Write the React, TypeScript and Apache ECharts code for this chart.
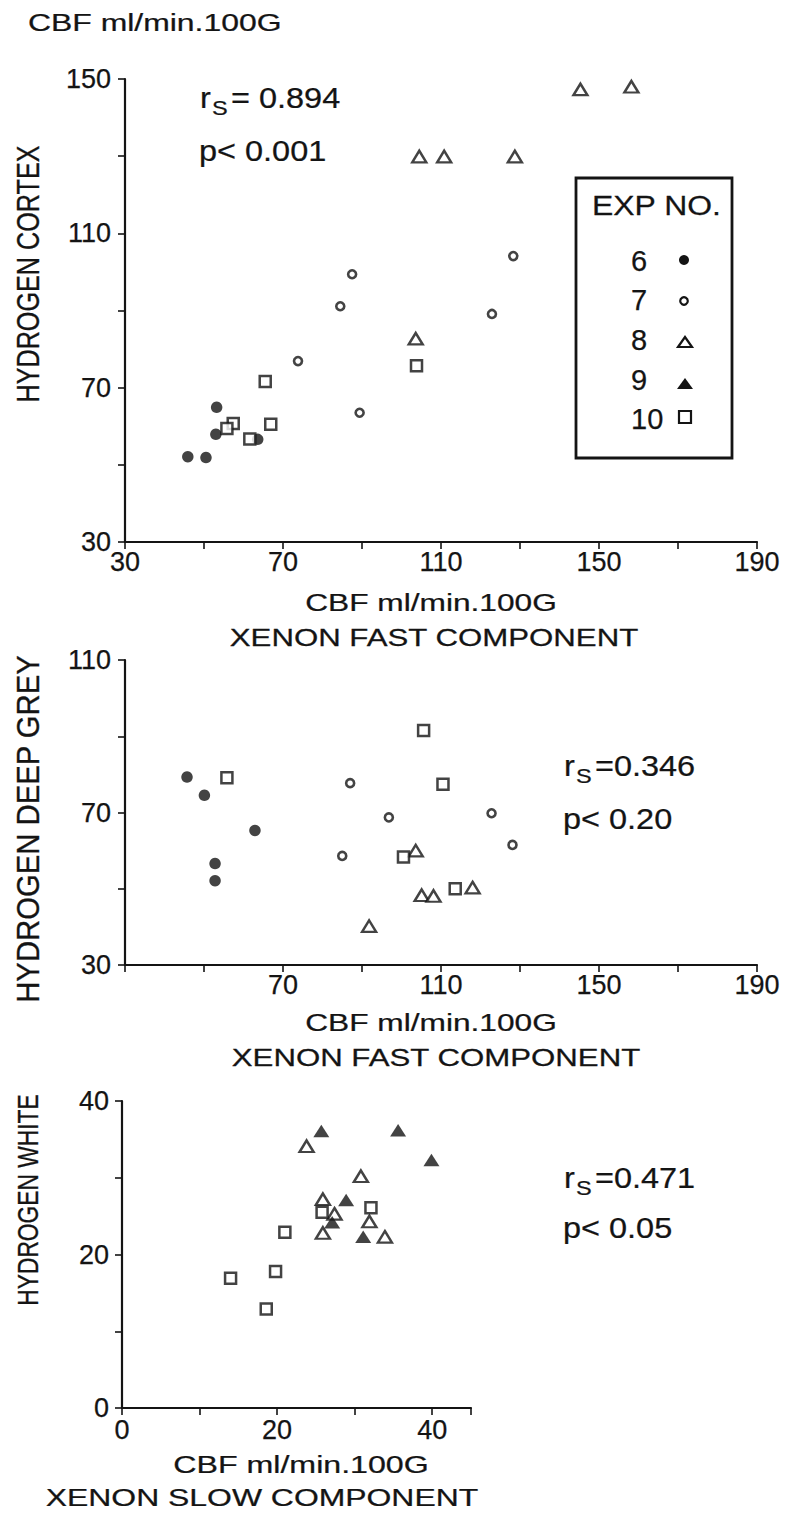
import React, { useEffect, useRef } from "react";
import * as echarts from "echarts";

// ---------- DATA ----------
// Panel 1: Hydrogen cortex vs Xenon fast component
const cortexExp6 = [[45.9, 52.1], [50.5, 51.9], [53.2, 64.9], [53.0, 57.9], [63.6, 56.6]];
const cortexExp7 = [[87.5, 99.4], [84.5, 91.1], [73.8, 76.9], [89.4, 63.5], [122.9, 89.1], [128.3, 104.1]];
const cortexExp8 = [[145.3, 147.3], [158.2, 148.0], [104.5, 129.9], [110.8, 129.9], [128.7, 129.9], [103.6, 82.7]];
const cortexExp10 = [[65.5, 71.6], [103.8, 75.7], [57.4, 60.7], [55.8, 59.4], [66.9, 60.5], [61.6, 56.7]];

// Panel 2: Hydrogen deep grey vs Xenon fast component
const greyExp6 = [[45.7, 79.3], [50.1, 74.5], [62.9, 65.3], [52.8, 56.6], [52.8, 52.1]];
const greyExp7 = [[87.0, 77.7], [96.8, 68.7], [85.0, 58.6], [122.8, 69.8], [128.1, 61.5]];
const greyExp8 = [[103.6, 60.0], [105.1, 48.3], [108.1, 48.1], [118.0, 50.3], [91.8, 40.2]];
const greyExp10 = [[55.8, 79.1], [105.6, 91.5], [110.5, 77.4], [100.5, 58.3], [113.6, 50.0]];

// Panel 3: Hydrogen white vs Xenon slow component
const whiteExp8 = [[23.8, 34.1], [30.8, 30.2], [25.9, 27.2], [27.4, 25.3], [31.9, 24.3], [25.9, 22.8], [33.9, 22.3]];
const whiteExp9 = [[25.7, 36.1], [35.6, 36.2], [39.9, 32.3], [28.9, 27.1], [27.1, 24.2], [31.1, 22.3]];
const whiteExp10 = [[25.8, 25.5], [32.1, 26.1], [21.0, 22.9], [19.8, 17.8], [14.0, 16.9], [18.6, 12.9]];

const legendExps = ["6", "7", "8", "9", "10"];
const stats = [
  { r: "= 0.894", p: "p< 0.001" },
  { r: "=0.346", p: "p< 0.20" },
  { r: "=0.471", p: "p< 0.05" },
];

// ---------- STYLE ----------
const INK = "#141414";
const FONT = "'Liberation Sans', Arial, Helvetica, sans-serif";

function txt(text: string, x: number, y: number, o: any = {}) {
  return {
    type: "text",
    x,
    y,
    rotation: o.rotation || 0,
    scaleX: o.sx || 1,
    scaleY: o.sy || 1,
    silent: true,
    z: 10,
    style: {
      text,
      x: 0,
      y: 0,
      fill: INK,
      stroke: INK,
      lineWidth: 0.25,
      fontSize: o.size || 24,
      fontFamily: FONT,
      align: o.align || "left",
      verticalAlign: "middle",
      textAlign: o.align || "left",
      textVerticalAlign: "middle",
    },
  };
}

function axisCommon(fontSize: number, margin: number, fmt: (v: number) => string) {
  return {
    type: "value",
    axisLine: { show: true, onZero: false, lineStyle: { color: INK, width: 2.2 } },
    axisTick: { show: true, length: 7, lineStyle: { color: INK, width: 1.6 } },
    splitLine: { show: false },
    axisLabel: {
      color: INK,
      fontSize,
      fontFamily: FONT,
      margin,
      formatter: fmt,
      textBorderColor: INK,
      textBorderWidth: 0.25,
    },
  };
}

const filledCircle = { symbol: "circle", symbolSize: 11.5, itemStyle: { color: INK, borderWidth: 0 } };
const openCircle = { symbol: "circle", symbolSize: 8, itemStyle: { color: "#fff", borderColor: INK, borderWidth: 2.6 } };
const openTri = { symbol: "triangle", symbolSize: [14, 11.5], itemStyle: { color: "#fff", borderColor: INK, borderWidth: 2.4 } };
const filledTri = { symbol: "triangle", symbolSize: [16, 12.5], itemStyle: { color: INK, borderWidth: 0 } };
const openSquare = { symbol: "rect", symbolSize: 11, itemStyle: { color: "#fff", borderColor: INK, borderWidth: 2.5 } };

function sc(idx: number, data: number[][], st: any) {
  return { type: "scatter", xAxisIndex: idx, yAxisIndex: idx, data, silent: true, ...st };
}

function rStat(x: number, y: number, rest: string) {
  return [
    txt("r", x, y, { size: 29, sx: 1.12 }),
    txt("S", x + 12, y + 10, { size: 21, sx: 1.12 }),
    txt(rest, x + 31, y, { size: 29, sx: 1.12 }),
  ];
}

export default function App() {
  const ref = useRef<HTMLDivElement>(null);

  useEffect(() => {
    document.body.style.margin = "0";
    if (!ref.current) return;
    const chart = echarts.init(ref.current, null, { renderer: "svg" });

    const legendYs = [261, 300, 340, 380, 419];
    const graphic: any[] = [
      {
        type: "rect",
        silent: true,
        z: 5,
        shape: { x: 576, y: 178, width: 156, height: 280 },
        style: { fill: "none", stroke: INK, lineWidth: 2.8 },
      },
      txt("CBF ml/min.100G", 28, 23, { sx: 1.33 }),
      // axis names panel 1
      txt("CBF ml/min.100G", 431, 603, { align: "center", sx: 1.32 }),
      txt("XENON FAST COMPONENT", 434, 638, { align: "center", sx: 1.3 }),
      // panel 2
      txt("CBF ml/min.100G", 431, 1023, { align: "center", sx: 1.32 }),
      txt("XENON FAST COMPONENT", 436, 1058, { align: "center", sx: 1.3 }),
      // panel 3
      txt("CBF ml/min.100G", 301, 1465, { align: "center", sx: 1.34 }),
      txt("XENON SLOW COMPONENT", 262, 1498, { align: "center", sx: 1.33 }),
      // y axis names
      txt("HYDROGEN CORTEX", 28, 274, { align: "center", rotation: Math.PI / 2, sx: 1.05, sy: 1.3 }),
      txt("HYDROGEN DEEP GREY", 28, 829, { align: "center", rotation: Math.PI / 2, sx: 1.22, sy: 1.3 }),
      txt("HYDROGEN WHITE", 28, 1200, { align: "center", rotation: Math.PI / 2, size: 24, sx: 0.95, sy: 1.25 }),
      // stats
      ...rStat(200, 98, stats[0].r),
      txt(stats[0].p, 199, 151, { size: 29, sx: 1.12 }),
      ...rStat(564, 766, stats[1].r),
      txt(stats[1].p, 563, 819, { size: 29, sx: 1.12 }),
      ...rStat(564, 1178, stats[2].r),
      txt(stats[2].p, 563, 1228, { size: 29, sx: 1.12 }),
      // legend content
      txt("EXP NO.", 592, 205, { size: 28, sx: 1.14 }),
      ...legendExps.map((e, i) => txt(e, 631, legendYs[i], { size: 29 })),
      { type: "circle", silent: true, z: 10, shape: { cx: 684, cy: 260, r: 5 }, style: { fill: INK } },
      { type: "circle", silent: true, z: 10, shape: { cx: 684, cy: 301, r: 3.8 }, style: { fill: "#fff", stroke: INK, lineWidth: 2.2 } },
      { type: "polygon", silent: true, z: 10, shape: { points: [[678, 347], [692, 347], [685, 337]] }, style: { fill: "#fff", stroke: INK, lineWidth: 2.2 } },
      { type: "polygon", silent: true, z: 10, shape: { points: [[677, 389], [693, 389], [685, 378]] }, style: { fill: INK } },
      { type: "rect", silent: true, z: 10, shape: { x: 679, y: 411, width: 12, height: 12 }, style: { fill: "#fff", stroke: INK, lineWidth: 2.2 } },
    ];

    const option: any = {
      animation: false,
      backgroundColor: "#fff",
      grid: [
        { left: 125, top: 79, width: 632, height: 463 },
        { left: 125, top: 660, width: 632, height: 305 },
        { left: 122, top: 1101, width: 349, height: 307 },
      ],
      xAxis: [
        { gridIndex: 0, min: 30, max: 190, interval: 20, ...axisCommon(27, 6, (v) => ((v - 30) % 40 === 0 ? String(v) : "")) },
        { gridIndex: 1, min: 30, max: 190, interval: 20, ...axisCommon(27, 6, (v) => (v !== 30 && (v - 30) % 40 === 0 ? String(v) : "")) },
        { gridIndex: 2, min: 0, max: 45, interval: 10, ...axisCommon(27, 8, (v) => (v % 20 === 0 && v <= 40 ? String(v) : "")) },
      ],
      yAxis: [
        { gridIndex: 0, min: 30, max: 150, interval: 20, ...axisCommon(27, 14, (v) => ((v - 30) % 40 === 0 ? String(v) : "")) },
        { gridIndex: 1, min: 30, max: 110, interval: 20, ...axisCommon(27, 14, (v) => ((v - 30) % 40 === 0 ? String(v) : "")) },
        { gridIndex: 2, min: 0, max: 40, interval: 10, ...axisCommon(27, 13, (v) => (v % 20 === 0 ? String(v) : "")) },
      ],
      series: [
        sc(0, cortexExp6, filledCircle),
        sc(0, cortexExp7, openCircle),
        sc(0, cortexExp8, openTri),
        sc(0, cortexExp10, openSquare),
        sc(1, greyExp6, filledCircle),
        sc(1, greyExp7, openCircle),
        sc(1, greyExp8, openTri),
        sc(1, greyExp10, openSquare),
        sc(2, whiteExp8, openTri),
        sc(2, whiteExp9, filledTri),
        sc(2, whiteExp10, openSquare),
      ],
      graphic,
    };

    chart.setOption(option);
    return () => chart.dispose();
  }, []);

  return <div ref={ref} style={{ width: 790, height: 1518, background: "#fff" }} />;
}
